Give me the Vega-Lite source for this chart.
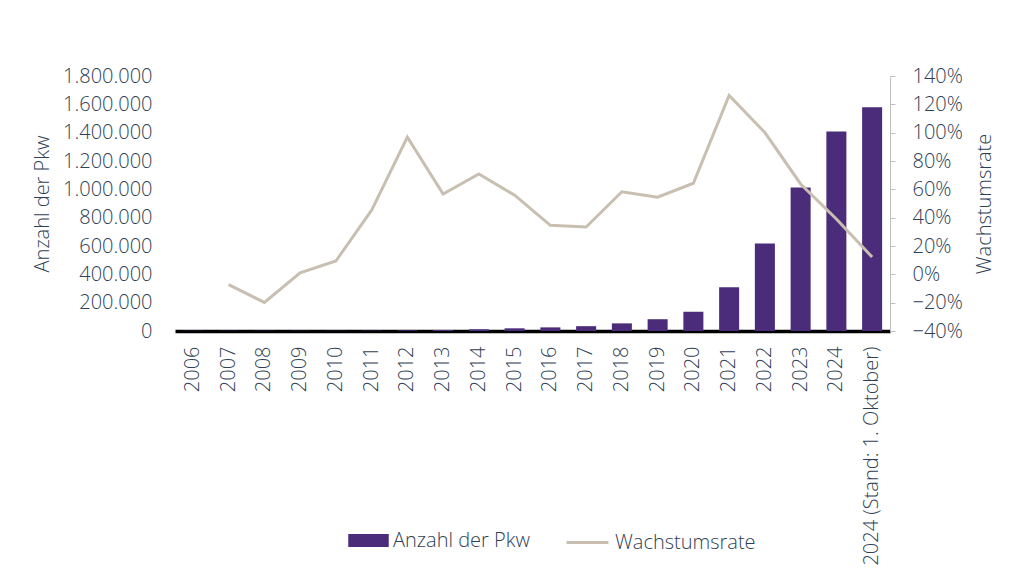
{
  "$schema": "https://vega.github.io/schema/vega-lite/v6.json",
  "autosize": "none",
  "width": 715,
  "height": 255,
  "padding": {"left": 175, "top": 76, "right": 134, "bottom": 256},
  "background": "white",
  "config": {
    "locale": {"number": {"decimal": ",", "thousands": ".", "grouping": [3], "currency": ["", " €"], "percent": "%"}},
    "font": "Open Sans",
    "view": {"stroke": null},
    "axis": {"labelFont": "Open Sans", "labelFontSize": 20, "labelFontWeight": 300, "labelColor": "#2F3F55", "titleFont": "Open Sans", "titleFontSize": 20, "titleFontWeight": 300, "titleColor": "#2F3F55", "grid": false, "labelLimit": 0},
    "legend": {"labelFont": "Open Sans", "labelFontSize": 20, "labelFontWeight": 300, "labelColor": "#2F3F55", "labelLimit": 0}
  },
  "data": {"values": [
    {"Jahr": "2006", "Anzahl": 1931, "Rate": null},
    {"Jahr": "2007", "Anzahl": 1790, "Rate": -0.073},
    {"Jahr": "2008", "Anzahl": 1436, "Rate": -0.198},
    {"Jahr": "2009", "Anzahl": 1452, "Rate": 0.011},
    {"Jahr": "2010", "Anzahl": 1588, "Rate": 0.094},
    {"Jahr": "2011", "Anzahl": 2307, "Rate": 0.453},
    {"Jahr": "2012", "Anzahl": 4541, "Rate": 0.968},
    {"Jahr": "2013", "Anzahl": 7114, "Rate": 0.567},
    {"Jahr": "2014", "Anzahl": 12156, "Rate": 0.709},
    {"Jahr": "2015", "Anzahl": 18948, "Rate": 0.559},
    {"Jahr": "2016", "Anzahl": 25502, "Rate": 0.346},
    {"Jahr": "2017", "Anzahl": 34022, "Rate": 0.334},
    {"Jahr": "2018", "Anzahl": 53861, "Rate": 0.583},
    {"Jahr": "2019", "Anzahl": 83175, "Rate": 0.544},
    {"Jahr": "2020", "Anzahl": 136617, "Rate": 0.643},
    {"Jahr": "2021", "Anzahl": 309083, "Rate": 1.262},
    {"Jahr": "2022", "Anzahl": 618460, "Rate": 1.001},
    {"Jahr": "2023", "Anzahl": 1013009, "Rate": 0.638},
    {"Jahr": "2024", "Anzahl": 1408681, "Rate": 0.391},
    {"Jahr": "2024 (Stand: 1. Oktober)", "Anzahl": 1580000, "Rate": 0.122}
  ]},
  "encoding": {
    "x": {
      "field": "Jahr", "type": "nominal", "sort": null,
      "scale": {"paddingInner": 0.44, "paddingOuter": 0.22},
      "axis": {"title": null, "labelAngle": -90, "labelLimit": 0, "ticks": false, "tickSize": 0, "labelPadding": 15, "domainColor": "#000000", "domainWidth": 3.5, "domainCap": "butt"}
    }
  },
  "layer": [
    {
      "mark": {"type": "bar"},
      "encoding": {
        "y": {
          "field": "Anzahl", "type": "quantitative",
          "scale": {"domain": [0, 1800000], "nice": false},
          "axis": {"title": "Anzahl der Pkw", "format": ",.0f", "values": [0, 200000, 400000, 600000, 800000, 1000000, 1200000, 1400000, 1600000, 1800000], "domain": false, "ticks": false, "tickSize": 0, "labelPadding": 23, "titlePadding": 10}
        },
        "fill": {
          "datum": "Anzahl der Pkw", "type": "nominal",
          "scale": {"range": ["#4B2C7A"]},
          "legend": {"title": null, "orient": "none", "legendX": 173, "legendY": 444, "direction": "horizontal", "padding": 0, "symbolType": "M-1,-0.32H1V0.32H-1Z", "symbolSize": 1640, "symbolStrokeWidth": 0, "labelOffset": 4}
        }
      }
    },
    {
      "mark": {"type": "line", "strokeWidth": 3},
      "encoding": {
        "y": {
          "field": "Rate", "type": "quantitative",
          "scale": {"domain": [-0.4, 1.4], "nice": false, "zero": false},
          "axis": {"title": "Wachstumsrate", "titleAngle": 270, "orient": "right", "format": ".0%", "values": [-0.4, -0.2, 0, 0.2, 0.4, 0.6, 0.8, 1.0, 1.2, 1.4], "domainColor": "#BFBFBF", "tickColor": "#BFBFBF", "tickSize": 5, "labelPadding": 17, "titlePadding": 32}
        },
        "stroke": {
          "datum": "Wachstumsrate", "type": "nominal",
          "scale": {"range": ["#C9BFB1"]},
          "legend": {"title": null, "orient": "none", "legendX": 390, "legendY": 444, "direction": "horizontal", "padding": 0, "symbolType": "stroke", "symbolSize": 1764, "symbolStrokeWidth": 3, "labelOffset": 5}
        }
      }
    }
  ],
  "resolve": {"scale": {"y": "independent", "fill": "independent", "stroke": "independent"}}
}
